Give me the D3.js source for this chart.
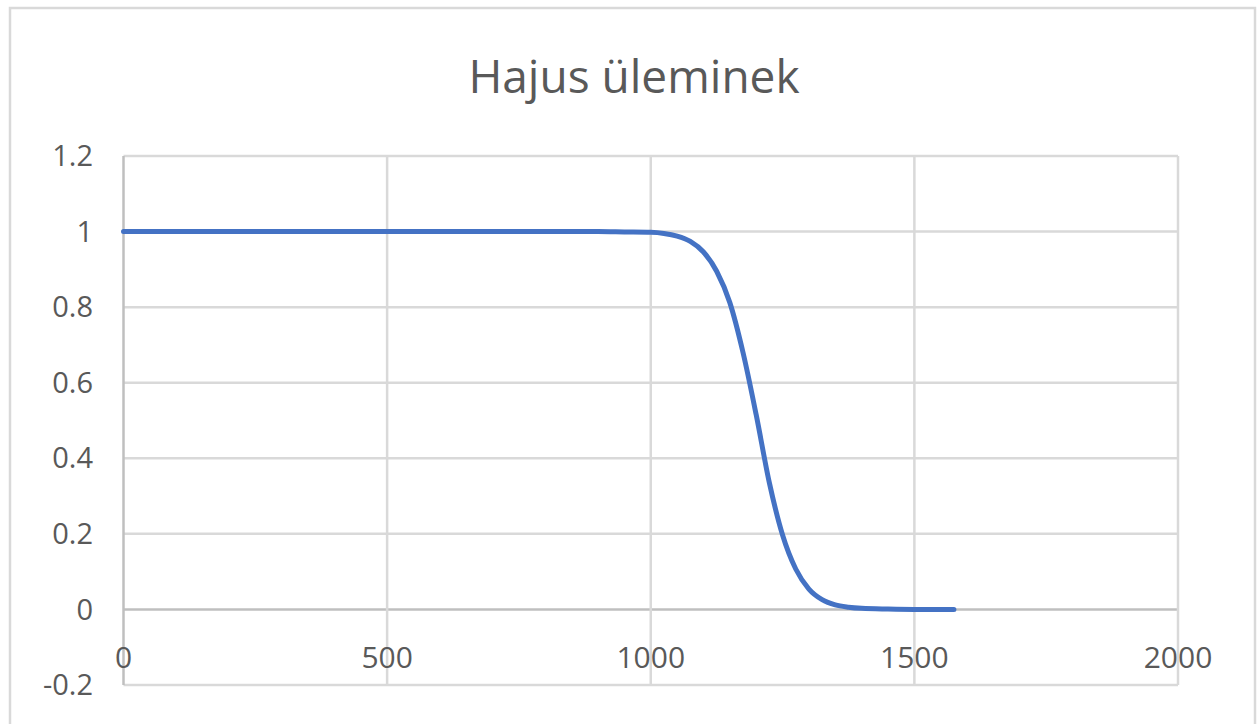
<!DOCTYPE html>
<html>
<head>
<meta charset="utf-8">
<script src="https://cdn.jsdelivr.net/npm/d3@7"></script>
<style>
	body { margin: 0; background: #fff; }
	text { font-family: "Segoe UI", "Open Sans", sans-serif; fill: #595959; }
</style>
</head>
<body>
<svg id="chart"></svg>
<script>

// data
var xs = [0, 100, 200, 300, 400, 500, 600, 700, 800, 900, 950, 1000, 1025, 1050, 1075, 1100, 1125, 1150, 1175, 1200, 1225, 1250, 1275, 1300, 1325, 1350, 1375, 1400, 1450, 1500, 1575];
var ys = [1, 1, 1, 1, 1, 1, 1, 1, 1, 1, 0.999, 0.998, 0.995, 0.988, 0.974, 0.946, 0.895, 0.812, 0.68, 0.515, 0.335, 0.197, 0.107, 0.054, 0.026, 0.012, 0.006, 0.003, 0.001, 0, 0];

var xTicks = [0, 500, 1000, 1500, 2000];
var yTicks = [-0.2, 0, 0.2, 0.4, 0.6, 0.8, 1, 1.2];
var title = "Hajus üleminek";

var width = 1260,
	height = 724;

var svg = d3.select("#chart")
	.attr("width", width)
	.attr("height", height);

// outer chart border
svg.append("rect")
	.attr("x", 10)
	.attr("y", 8)
	.attr("width", 1245)
	.attr("height", 740)
	.style("fill", "none")
	.style("stroke", "#d9d9d9")
	.style("stroke-width", 2.5);

var x = d3.scaleLinear()
	.domain([0, 2000])
	.range([123.5, 1178]);

var y = d3.scaleLinear()
	.domain([-0.2, 1.2])
	.range([685, 156]);

// gridlines
svg.append("g")
	.selectAll("line")
	.data(yTicks)
	.enter().append("line")
	.attr("x1", x(0))
	.attr("x2", x(2000))
	.attr("y1", function(d) { return y(d); })
	.attr("y2", function(d) { return y(d); })
	.style("stroke", function(d) { return d === 0 ? "#bfbfbf" : "#d9d9d9"; })
	.style("stroke-width", 2.5);

svg.append("g")
	.selectAll("line")
	.data(xTicks)
	.enter().append("line")
	.attr("y1", y(-0.2))
	.attr("y2", y(1.2))
	.attr("x1", function(d) { return x(d); })
	.attr("x2", function(d) { return x(d); })
	.style("stroke", function(d) { return d === 0 ? "#bfbfbf" : "#d9d9d9"; })
	.style("stroke-width", 2.5);

// tick labels (plain hyphen for negatives, like the original)
svg.append("g")
	.selectAll("text")
	.data(yTicks)
	.enter().append("text")
	.attr("x", 93)
	.attr("y", function(d) { return y(d); })
	.attr("dy", "0.35em")
	.style("font-size", "29px")
	.style("text-anchor", "end")
	.text(function(d) { return String(+d.toFixed(1)); });

svg.append("g")
	.selectAll("text")
	.data(xTicks)
	.enter().append("text")
	.attr("x", function(d) { return x(d); })
	.attr("y", y(0) + 48)
	.attr("dy", "0.35em")
	.style("font-size", "30px")
	.style("text-anchor", "middle")
	.text(function(d) { return d; });

// title
svg.append("text")
	.attr("x", 634)
	.attr("y", 93)
	.style("font-size", "46px")
	.style("text-anchor", "middle")
	.text(title);

// the curve
var points = xs.map(function(d, i) { return [d, ys[i]]; });

var line = d3.line()
	.x(function(d) { return x(d[0]); })
	.y(function(d) { return y(d[1]); })
	.curve(d3.curveMonotoneX);

svg.append("path")
	.attr("d", line(points))
	.style("fill", "none")
	.style("stroke", "#4472c4")
	.style("stroke-width", 5)
	.style("stroke-linecap", "round");

</script>
</body>
</html>
